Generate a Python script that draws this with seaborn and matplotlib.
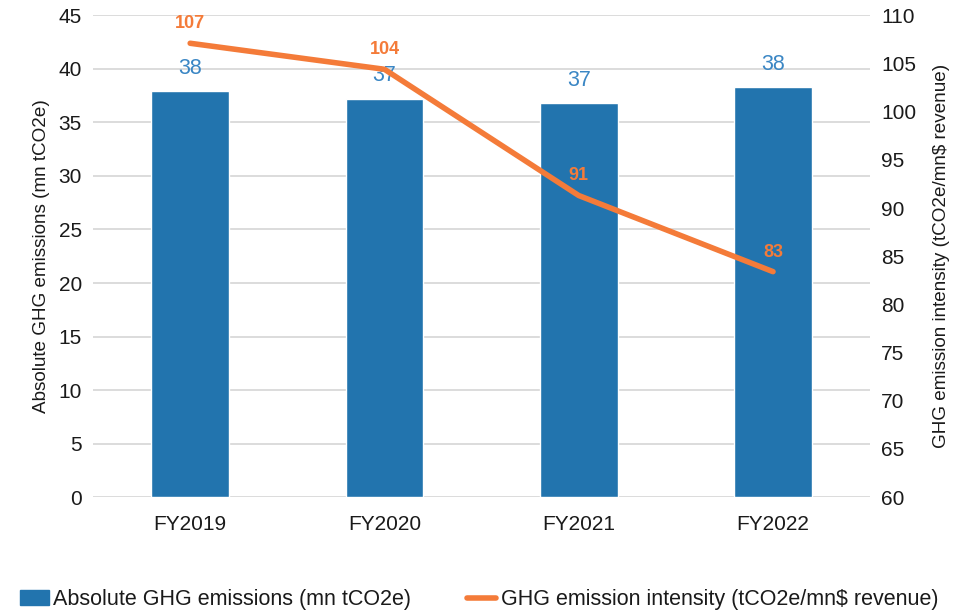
import numpy as np
import matplotlib
matplotlib.use('Agg')
import matplotlib.pyplot as plt
import matplotlib.patches as mpatches
import matplotlib.lines as mlines
import seaborn as sns

# data
years = ['FY2019', 'FY2020', 'FY2021', 'FY2022']
emissions = [37.9, 37.2, 36.8, 38.3]          # mn tCO2e
intensity = [107.1, 104.4, 91.3, 83.4]        # tCO2e / mn$ revenue
emission_labels = ['38', '37', '37', '38']
intensity_labels = ['107', '104', '91', '83']

BAR = '#2274ae'
BAR_TXT = '#3a86c4'
LINE = '#f47b39'
GRID = '#d9d9d9'
TXT = '#1a1a1a'

sns.set_theme(style='white')
plt.rcParams['font.family'] = ['Liberation Sans', 'DejaVu Sans']

fig = plt.figure(figsize=(9.69, 6.13), dpi=100)
ax = fig.add_axes([0.096, 0.189, 0.802, 0.786])

sns.barplot(x=years, y=emissions, color=BAR, width=0.4, saturation=1, ax=ax, zorder=2)
ax.set_ylim(0, 45)
ax.set_yticks(np.arange(0, 46, 5))
ax.set_xlim(-0.5, 3.5)
ax.grid(axis='y', color=GRID, linewidth=1.3, zorder=0)
ax.set_axisbelow(True)
for s in ax.spines.values():
    s.set_visible(False)
ax.tick_params(axis='both', length=0, labelsize=15, colors=TXT, pad=8)
ax.tick_params(axis='x', pad=13)
ax.set_ylabel('Absolute GHG emissions (mn tCO2e)', fontsize=13.6, color=TXT, labelpad=6)

for i, (v, lab) in enumerate(zip(emissions, emission_labels)):
    ax.annotate(lab, (i, v), xytext=(0, 9), textcoords='offset points',
                ha='center', va='bottom', fontsize=15.5, color=BAR_TXT, zorder=5)

ax2 = ax.twinx()
xpos = np.arange(len(years))
sns.lineplot(x=xpos, y=intensity, color=LINE, linewidth=4, ax=ax2,
             solid_capstyle='round', solid_joinstyle='round', zorder=4)
ax2.set_ylim(60, 110)
ax2.set_yticks(np.arange(60, 111, 5))
ax2.set_xlim(-0.5, 3.5)
for s in ax2.spines.values():
    s.set_visible(False)
ax2.tick_params(axis='y', length=0, labelsize=15, colors=TXT, pad=8)
ax2.set_ylabel('GHG emission intensity (tCO2e/mn$ revenue)', fontsize=13.6,
               color=TXT, rotation=90, labelpad=12)

for i, (v, lab) in enumerate(zip(intensity, intensity_labels)):
    ax2.annotate(lab, (i, v), xytext=(0, 8), textcoords='offset points',
                 ha='center', va='bottom', fontsize=13, fontweight='bold',
                 color=LINE, zorder=6)

h1 = mpatches.Patch(color=BAR, label='Absolute GHG emissions (mn tCO2e)')
h2 = mlines.Line2D([], [], color=LINE, linewidth=4, label='GHG emission intensity (tCO2e/mn$ revenue)')
leg = fig.legend(handles=[h1, h2], loc='lower left', bbox_to_anchor=(0.005, -0.02), ncol=2,
                 frameon=False, fontsize=15.5, handlelength=1.35, handletextpad=0.2,
                 columnspacing=2.6, borderaxespad=0.3)
for t in leg.get_texts():
    t.set_color(TXT)

fig.savefig('out.png', dpi=100)
